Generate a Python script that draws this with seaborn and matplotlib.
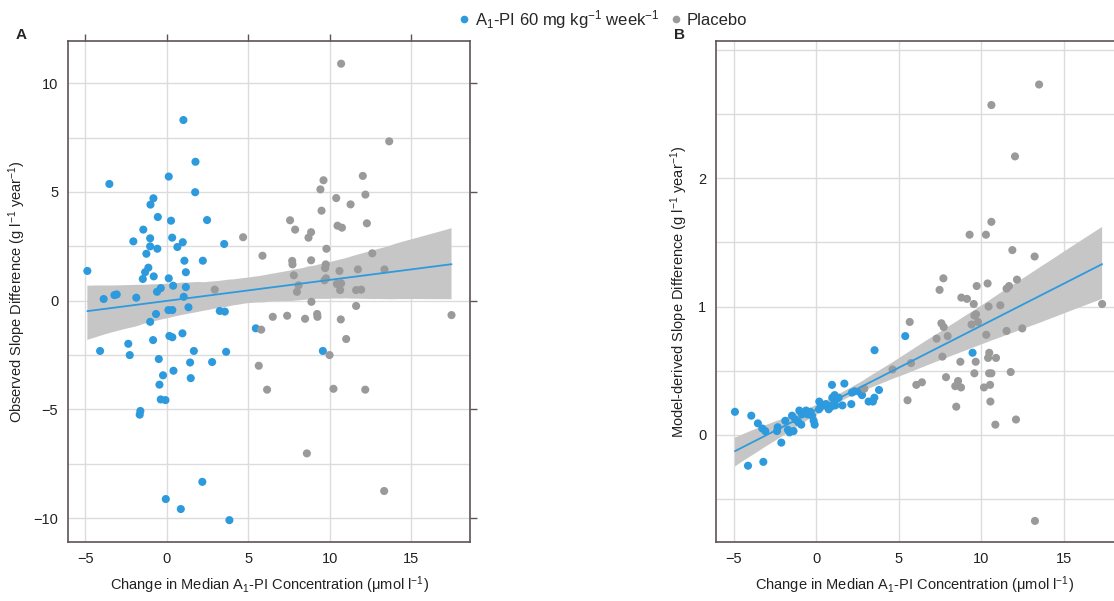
import pandas as pd
import seaborn as sns
import matplotlib.pyplot as plt
from matplotlib.ticker import FixedLocator
from matplotlib.lines import Line2D

# Panel A - observed slope difference vs change in A1-PI concentration
a_treat_x = [-4.87, -3.52, 1.02, 1.76, 0.12, 1.74, -0.82, -1.0, -0.55, 0.26, 2.47, -1.44, -2.05, -1.02,
             0.33, 0.98, 0.65, -1.02, -0.58, 3.52, -1.25, 1.08, 2.21, -1.13, -1.33, 1.17, -1.47, -0.80,
             0.12, 0.39, 1.17, -0.37, -0.60, -3.21, -3.07, -3.87, -1.87, 1.04, 1.33, 0.10, 0.34, -0.66,
             3.25, 3.56, -1.02, 5.46, 0.16, 0.34, 0.96, -2.36, -0.84, -4.09, -2.27, 1.66, 3.64, -0.49,
             1.43, 2.78, 0.41, -0.23, 1.47, -0.45, -0.37, -0.08, -1.62, -1.66, 2.18, -0.06, 0.86, 3.84,
             9.57]
a_treat_y = [1.37, 5.37, 8.31, 6.39, 5.71, 4.99, 4.71, 4.42, 3.85, 3.68, 3.71, 3.27, 2.73, 2.87,
             2.90, 2.69, 2.47, 2.50, 2.39, 2.61, 2.16, 1.84, 1.84, 1.52, 1.31, 1.31, 1.00, 1.12,
             1.03, 0.69, 0.63, 0.58, 0.41, 0.26, 0.29, 0.08, 0.14, 0.18, -0.30, -0.43, -0.43, -0.61,
             -0.47, -0.50, -0.97, -1.27, -1.62, -1.68, -1.50, -1.98, -1.81, -2.31, -2.50, -2.31, -2.35, -2.68,
             -2.84, -2.82, -3.22, -3.43, -3.56, -3.86, -4.54, -4.57, -5.07, -5.24, -8.33, -9.12, -9.58, -10.09,
             -2.31]
a_plac_x = [10.69, 4.68, 5.87, 2.94, 7.56, 7.87, 8.85, 8.69, 9.61, 9.42, 10.39, 11.27, 9.49, 10.47,
            10.74, 9.79, 7.69, 7.71, 8.85, 9.75, 9.71, 10.59, 11.72, 7.79, 9.77, 9.67, 8.08, 7.98,
            10.43, 10.69, 10.63, 11.61, 8.87, 11.61, 6.50, 7.38, 8.48, 9.22, 9.24, 10.67, 5.79,
            13.64, 12.02, 12.18, 12.27, 12.60, 13.35, 11.92, 17.46, 11.0, 9.98, 5.64, 6.15, 10.22, 8.59,
            12.17, 13.33]
a_plac_y = [10.90, 2.92, 2.07, 0.51, 3.70, 3.27, 3.15, 2.90, 5.54, 5.12, 4.72, 4.43, 4.14, 3.45,
            3.36, 2.39, 1.83, 1.67, 1.86, 1.67, 1.50, 1.37, 1.44, 1.17, 1.03, 0.94, 0.71, 0.41,
            0.77, 0.80, 0.49, 0.49, -0.05, -0.24, -0.74, -0.69, -0.83, -0.61, -0.74, -0.86, -1.33,
            7.33, 5.74, 4.88, 3.56, 2.18, 1.44, 0.51, -0.66, -1.76, -2.50, -2.99, -4.09, -4.05, -7.02,
            -4.09, -8.75]

# Panel B - model-derived slope difference
b_treat_x = [-4.93, -3.94, -3.54, -3.27, -3.09, -4.14, -3.21, -2.12, -2.34, -2.38, -1.88, -1.72, -1.38,
             -1.62, -1.47, -1.27, -1.03, -0.87, -1.09, -0.91, -0.62, -0.52, -0.36, -0.26, -0.16, -0.10,
             0.18, 0.28, 0.16, 0.40, 0.57, 0.75, 0.89, 0.95, 0.97, 1.11, 1.25, 1.35, 1.01, 1.15, 1.58,
             1.70, 2.12, 2.16, 2.32, 2.67, 2.77, 3.17, 3.43, 3.52, 3.80, 3.53, 5.39, 9.47]
b_treat_y = [0.18, 0.15, 0.09, 0.05, 0.03, -0.24, -0.21, -0.06, 0.06, 0.03, 0.11, 0.04, 0.03,
             0.02, 0.15, 0.12, 0.19, 0.16, 0.10, 0.08, 0.19, 0.16, 0.18, 0.15, 0.11, 0.08,
             0.26, 0.23, 0.20, 0.23, 0.24, 0.20, 0.22, 0.39, 0.29, 0.31, 0.28, 0.29, 0.23, 0.23, 0.23,
             0.40, 0.24, 0.33, 0.34, 0.33, 0.31, 0.26, 0.26, 0.29, 0.35, 0.66, 0.77, 0.64]
b_plac_x = [13.50, 10.61, 12.04, 10.61, 9.29, 10.28, 11.88, 13.23, 7.70, 7.47, 9.72, 10.38, 12.16,
            11.68, 11.53, 8.79, 9.13, 9.54, 10.44, 11.15, 17.32, 5.66, 9.58, 9.68, 9.80, 7.58, 7.72,
            9.41, 7.29, 7.96, 10.30, 11.53, 12.48, 4.62, 5.74, 7.64, 8.73, 9.66, 10.48, 10.41, 10.89,
            9.58, 10.47, 10.61, 11.78, 7.86, 6.40, 6.06, 8.59, 8.42, 8.77, 10.16, 10.53, 2.91, 5.53,
            8.48, 10.55, 10.85, 12.10, 13.25]
b_plac_y = [2.73, 2.57, 2.17, 1.66, 1.56, 1.56, 1.44, 1.39, 1.22, 1.13, 1.16, 1.18, 1.21,
            1.16, 1.14, 1.07, 1.06, 1.02, 1.00, 1.01, 1.02, 0.88, 0.93, 0.94, 0.88, 0.87, 0.84,
            0.86, 0.75, 0.77, 0.78, 0.81, 0.83, 0.51, 0.56, 0.61, 0.57, 0.57, 0.64, 0.60, 0.60,
            0.48, 0.48, 0.48, 0.49, 0.45, 0.41, 0.39, 0.42, 0.38, 0.37, 0.37, 0.39, 0.36, 0.27,
            0.22, 0.26, 0.08, 0.12, -0.67]

treat_name = r'A$_1$-PI 60 mg kg$^{-1}$ week$^{-1}$'
plac_name = 'Placebo'
blue = '#2e9ade'
grey = '#9a9a9a'
band_col = '#c6c6c6'
frame_col = '#5e5454'
grid_col = '#dcdcdc'
xlab = r'Change in Median A$_1$-PI Concentration (μmol l$^{-1}$)'

sns.set_theme(style='white')
plt.rcParams['font.family'] = ['Liberation Sans', 'DejaVu Sans']
plt.rcParams['mathtext.fontset'] = 'custom'
plt.rcParams['mathtext.rm'] = 'Liberation Sans'
plt.rcParams['mathtext.it'] = 'Liberation Sans:italic'
plt.rcParams['mathtext.bf'] = 'Liberation Sans:bold'


def make_df(tx, ty, px, py):
    return pd.DataFrame({
        'x': tx + px,
        'y': ty + py,
        'group': [treat_name] * len(tx) + [plac_name] * len(px),
    })


dfA = make_df(a_treat_x, a_treat_y, a_plac_x, a_plac_y)
dfB = make_df(b_treat_x, b_treat_y, b_plac_x, b_plac_y)
pal = {treat_name: blue, plac_name: grey}

fig = plt.figure(figsize=(11.14, 6.01), dpi=100)
axA = fig.add_axes([0.061, 0.098, 0.361, 0.834])
axB = fig.add_axes([0.6427, 0.098, 0.3573, 0.834])


def draw(ax, df):
    sns.scatterplot(data=df, x='x', y='y', hue='group', palette=pal, s=34,
                    linewidth=0, legend=False, ax=ax, zorder=3)
    sns.regplot(data=df, x='x', y='y', scatter=False, color=blue, ax=ax, seed=3,
                line_kws={'lw': 1.3, 'zorder': 4})
    # grey confidence band under the points
    band = ax.collections[-1]
    band.set_facecolor(band_col)
    band.set_edgecolor('none')
    band.set_alpha(1)
    band.set_zorder(1)
    ax.grid(True, which='major', axis='x', color=grid_col, lw=1)
    ax.grid(True, which='both', axis='y', color=grid_col, lw=1)
    ax.set_axisbelow(True)
    for s in ax.spines.values():
        s.set_color(frame_col)
        s.set_linewidth(1.2)
    ax.tick_params(which='major', direction='out', length=5, width=1, color=frame_col,
                   labelsize=10.5, labelcolor='#222222', pad=2)
    ax.tick_params(which='minor', length=0)
    ax.set_xticks([-5, 0, 5, 10, 15])
    ax.set_xlabel(xlab, fontsize=10.5, color='#222222', labelpad=6)


draw(axA, dfA)
axA.set_xlim(-6.06, 18.6)
axA.set_ylim(-11.1, 11.95)
axA.yaxis.set_major_locator(FixedLocator([-10, -5, 0, 5, 10]))
axA.yaxis.set_minor_locator(FixedLocator([-7.5, -2.5, 2.5, 7.5]))
axA.tick_params(which='major', top=True, right=True)
axA.set_ylabel(r'Observed Slope Difference (g l$^{-1}$ year$^{-1}$)', fontsize=10.5,
               color='#222222', labelpad=4)

draw(axB, dfB)
axB.set_xlim(-6.08, 18.04)
axB.set_ylim(-0.835, 3.07)
axB.yaxis.set_major_locator(FixedLocator([0, 1, 2]))
axB.yaxis.set_minor_locator(FixedLocator([-0.5, 0.5, 1.5, 2.5, 3.0]))
axB.spines['right'].set_visible(False)
axB.set_ylabel(r'Model-derived Slope Difference (g l$^{-1}$ year$^{-1}$)', fontsize=10.5,
               color='#222222', labelpad=6)

fig.text(0.014, 0.935, 'A', fontsize=11, fontweight='bold')
fig.text(0.605, 0.935, 'B', fontsize=11, fontweight='bold')

handles = [Line2D([], [], marker='o', ls='none', color=blue, markersize=4.5),
           Line2D([], [], marker='o', ls='none', color=grey, markersize=4.5)]
fig.legend(handles, [treat_name, plac_name], loc='center', bbox_to_anchor=(0.54, 0.968),
           ncol=2, frameon=False, fontsize=12, handletextpad=0.15, columnspacing=0.5,
           handlelength=1.0)

fig.savefig('out.png', dpi=100)
